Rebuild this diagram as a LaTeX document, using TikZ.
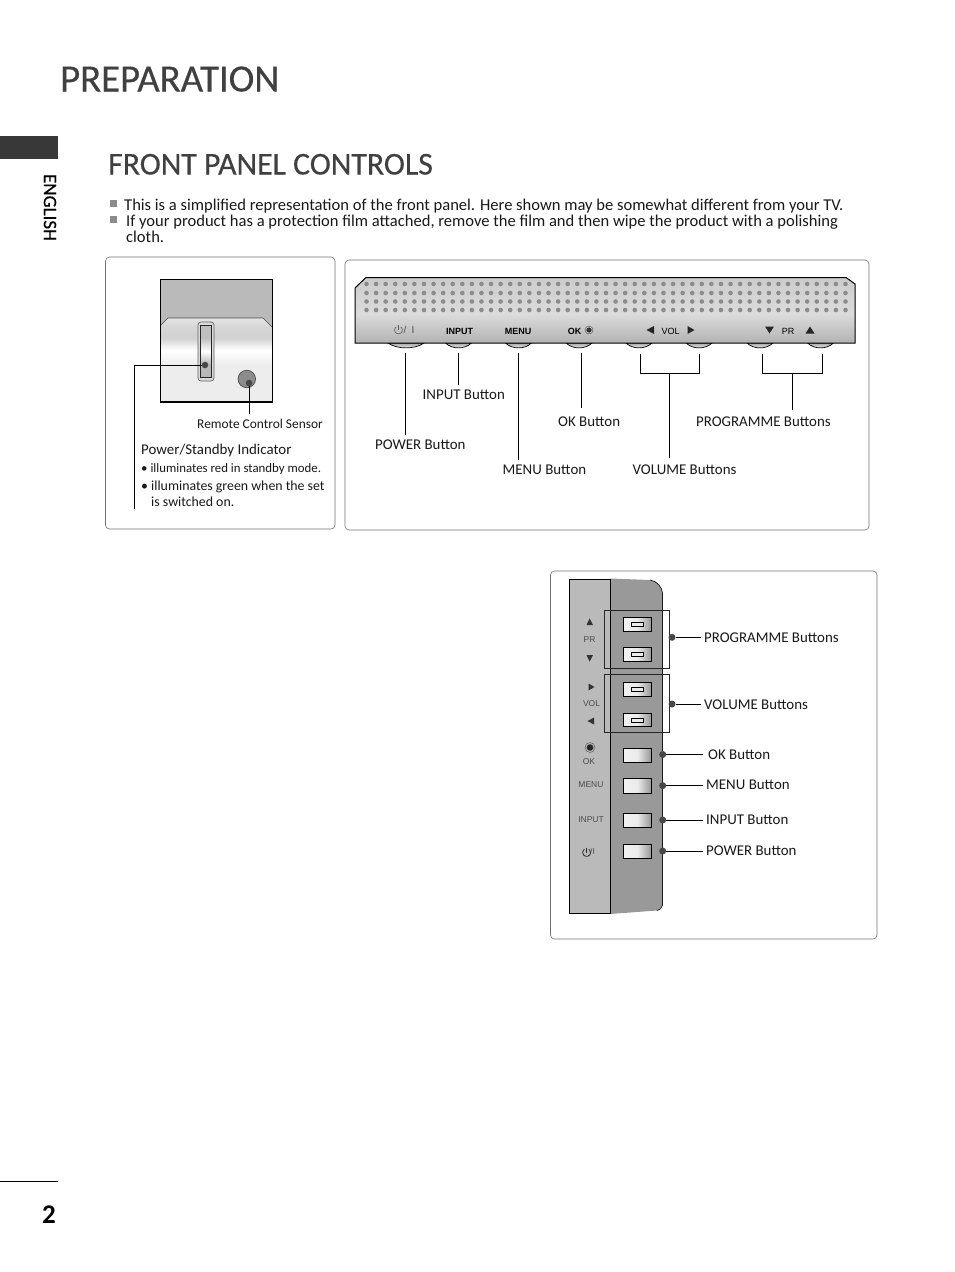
\documentclass[tikz,border=0pt]{standalone}
\usepackage{fontspec}
\setmainfont{Carlito}
\newfontfamily\arialf{Liberation Sans}
\newfontfamily\headf[FakeBold=0.35]{Carlito}
\pgfdeclareverticalshading{chinshade}{100bp}{color(0bp)=(black!7); color(25bp)=(black!7); color(47bp)=(black!7); color(56bp)=(white); color(63bp)=(black!18); color(70bp)=(black!16); color(75bp)=(black!10); color(100bp)=(black!10)}
\pgfdeclareverticalshading{ledshade}{100bp}{color(0bp)=(black!28); color(37.5bp)=(black!28); color(50bp)=(white); color(62.5bp)=(black!25); color(100bp)=(black!25)}
\pgfdeclareverticalshading{panelshade}{100bp}{color(0bp)=(black!30); color(25bp)=(black!30); color(47bp)=(black!14); color(75bp)=(black!20); color(100bp)=(black!20)}
\pgfdeclareverticalshading{keyshade}{100bp}{color(0bp)=(white); color(25bp)=(white); color(75bp)=(black!35); color(100bp)=(black!35)}
\pgfdeclarehorizontalshading{btnshade}{100bp}{color(0bp)=(black!5); color(25bp)=(black!5); color(50bp)=(black!8); color(75bp)=(black!42); color(100bp)=(black!42)}
\newcommand{\pwrsym}[3]{\draw[#3] plot[domain=125:415,samples=24,smooth] ({#1+3.8*cos(\x)},{#2-3.8*sin(\x)}); \draw[#3] (#1,#2-5) -- (#1,#2);}
\tikzset{
  x=1pt,y=-1pt,
  txt/.style={inner sep=0pt,anchor=base west,text=black!90},
  lab/.style={txt,font=\fontsize{14.9}{14.9}\selectfont},
  small/.style={txt,font=\fontsize{12.85}{12.85}\selectfont},
  bodytxt/.style={txt,font=\fontsize{16.55}{16.55}\selectfont},
  ari/.style={inner sep=0pt,anchor=center,text=black!70,font=\arialf\fontsize{8.5}{8.5}\selectfont},
  arib/.style={inner sep=0pt,anchor=center,text=black,font=\arialf\fontsize{9}{9}\selectfont},
  framebox/.style={draw=black!55,line width=0.6pt,rounded corners=4pt,fill=white},
  leader/.style={draw=black,line width=0.7pt},
  leaddot/.style={circle,fill=black!72,inner sep=0pt,minimum size=7pt},
  frontbtn/.style={draw=black,line width=0.9pt,shading=btnshade},
  innerslot/.style={draw=black,line width=0.6pt,fill=black!8},
}
\begin{document}
\begin{tikzpicture}
\useasboundingbox (0,0) rectangle (954,1272);
\fill[white] (0,0) rectangle (954,1272);
% header
\node[txt,text=black!75,font=\headf\fontsize{38.7}{38.7}\selectfont] (title) at (60,91.5) {PREPARATION};
\fill[black!78] (0,136) rectangle (58,159);
\node[inner sep=0pt,rotate=-90,text=black,font=\headf\fontsize{19}{19}\selectfont] (eng) at (50,207.5) {ENGLISH};
\node[txt,text=black!75,font=\headf\fontsize{31.8}{31.8}\selectfont] (sect) at (108,174.5) {FRONT PANEL CONTROLS};
\fill[black!45] (110,199.5) rectangle (117,206.5);
\fill[black!45] (110,215.5) rectangle (117,222.5);
\node[bodytxt] (l1) at (124,210) {This is a simplified representation of the front panel. Here shown may be somewhat different from your TV.};
\node[bodytxt] (l2) at (126,226) {If your product has a protection film attached, remove the film and then wipe the product with a polishing};
\node[bodytxt] (l3) at (126,242) {cloth.};
% boxes
\draw[framebox] (105.5,257) rectangle (335,529);
\draw[framebox] (345,260) rectangle (869,530);
\draw[framebox] (550.5,571) rectangle (877,939);
% sensor picture
\fill[black!27] (160.7,279.5) rectangle (272,402);
\shade[shading=chinshade] (161,325) -- (168,318) -- (263,318) -- (272,327) -- (272,402) -- (161,402) -- cycle;
\draw[black!70,line width=0.6pt] (161,325) -- (168,318) -- (263,318) -- (272,327);
\draw[black,line width=0.6pt] (160.7,402) -- (160.7,279.5) -- (272,279.5) -- (272,402);
\draw[black,line width=1.4pt] (160.2,402) -- (272.5,402);
\draw[black,line width=1.2pt] (160.7,325) -- (160.7,402);
\draw[black!60,line width=0.7pt,fill=black!15,rounded corners=3pt] (198,322) rectangle (214,381);
\shade[shading=ledshade,draw=black!85,line width=0.7pt] (200.7,325) rectangle (211.7,377);
\node[circle,fill=black!72,inner sep=0pt,minimum size=6.5pt] (leddot) at (205,365) {};
\node[circle,draw=black!70,line width=0.7pt,fill=black!45,inner sep=0pt,minimum size=17.5pt] (sensor) at (246.8,379) {};
\node[circle,fill=black!72,inner sep=0pt,minimum size=6.5pt] (sensordot) at (249,383) {};
\node[small,font=\fontsize{13.4}{13.4}\selectfont] (rcs) at (197,428) {Remote Control Sensor};
\coordinate (rcstop) at (249,414);
\draw[leader] (sensordot) -- (rcstop);
\coordinate (ledelbow) at (134.5,365);
\coordinate (ledend) at (134.5,509);
\draw[leader] (leddot) -- (ledelbow) -- (ledend);
\node[lab] (psi) at (141,454) {Power/Standby Indicator};
\node[small] (p1) at (141,472) {• illuminates red in standby mode.};
\node[lab,font=\fontsize{13.85}{13.85}\selectfont] (p2) at (141,490) {• illuminates green when the set};
\node[lab,font=\fontsize{13.85}{13.85}\selectfont] (p3) at (151,506) {is switched on.};
% front panel buttons
\foreach \cx/\hw in {406/18,458.5/13,518.5/13,579/13,639/13,699/13,760/13,820.5/13}{
  \shade[shading=keyshade,draw=black,line width=0.7pt] (\cx-\hw,343) .. controls (\cx-\hw*0.5,349.5) and (\cx+\hw*0.5,349.5) .. (\cx+\hw,343) -- cycle;
}
% panel
\shade[shading=panelshade] (355,288) -- (366,277.5) -- (846,277.5) -- (855,284) -- (855,343) -- (355,343) -- cycle;
\draw[black,line width=1pt] (355,343) -- (355,288) -- (366,277.5) -- (846,277.5) -- (855,284) -- (855,343) -- cycle;
\foreach \r in {284,293,301.5,310}{
  \foreach \i in {0,...,50}{
    \fill[black!45] ({366.5+9.58*\i},\r) circle (2.3);
  }
}
% power symbol on panel
\pwrsym{398.5}{330}{black!65,line width=0.6pt}
\node[ari,font=\arialf\fontsize{10}{10}\selectfont] (pwrtxt) at (409,330) {/\hspace{5pt}I};
\node[arib] (pinput) at (459.5,331) {\textbf{INPUT}};
\node[arib] (pmenu) at (518,331) {\textbf{MENU}};
\node[arib] (pok) at (574.5,331) {\textbf{OK}};
\node[circle,draw=black!70,line width=0.4pt,inner sep=0pt,minimum size=8pt] (poksym) at (589,330) {};
\fill[black!80] (poksym.center) circle (2.6);
\fill[black!85] (654,326) -- (654,334) -- (646.5,330) -- cycle;
\fill[black!85] (687.5,326) -- (687.5,334) -- (694.5,330) -- cycle;
\fill[black!85] (765,326.5) -- (774,326.5) -- (769.5,333.5) -- cycle;
\fill[black!85] (805.5,333.5) -- (814.5,333.5) -- (810,326.5) -- cycle;
\node[arib] (pvol) at (670.5,331) {VOL};
\node[arib] (ppr) at (788,331) {PR};
% connectors of the front panel
\foreach \nm/\cx/\cy in {a/405.5/435,b/458.5/385,c/518.5/460,d/581/408}{
  \coordinate (\nm top) at (\cx,353);
  \coordinate (\nm end) at (\cx,\cy);
  \draw[leader] (\nm top) -- (\nm end);
}
\coordinate (va) at (640,354); \coordinate (vb) at (640,373); \coordinate (vc) at (699.5,373); \coordinate (vd) at (699.5,354);
\coordinate (vm) at (669.5,373); \coordinate (ve) at (669.5,458);
\draw[leader] (va) -- (vb) -- (vc) -- (vd);
\draw[leader] (vm) -- (ve);
\coordinate (ra) at (762.5,354); \coordinate (rb) at (762.5,373); \coordinate (rc) at (822.5,373); \coordinate (rd) at (822.5,354);
\coordinate (rm) at (792.5,373); \coordinate (re) at (792.5,410);
\draw[leader] (ra) -- (rb) -- (rc) -- (rd);
\draw[leader] (rm) -- (re);
\node[lab] (tinput) at (422.5,399) {INPUT Button};
\node[lab] (tpower) at (375,449) {POWER Button};
\node[lab] (tok) at (558,426) {OK Button};
\node[lab] (tmenu) at (502.5,474) {MENU Button};
\node[lab] (tprog) at (696,426) {PROGRAMME Buttons};
\node[lab] (tvol) at (632.5,474) {VOLUME Buttons};
% side view
\fill[black!40] (610,578.5) -- (650,580) .. controls (657,581) and (662,587) .. (662.5,593) -- (662.5,905) .. controls (662,908) and (660,910) .. (657,910.5) -- (610,914) -- cycle;
\draw[black!90,line width=0.7pt] (650,580) .. controls (657,581) and (662,587) .. (662.5,593) -- (662.5,905) .. controls (662,908) and (660,910) .. (657,910.5);
\fill[black!27] (569,579) rectangle (610,913.5);
\draw[black,line width=1pt] (610,913.5) -- (569,913.5) -- (569,579) -- (610,579) -- (610,913.5);
\foreach \ya/\yb/\slot in {617/631/1,647.7/661.7/1,682/696/1,713/726.7/1,748/762/0,778.7/793/0,813/827/0,844/858/0}{
  \draw[frontbtn] (623,\ya) rectangle (651.7,\yb);
  \ifnum\slot=1
    \draw[innerslot] (631,{(\ya+\yb)/2-2}) rectangle (643.3,{(\ya+\yb)/2+2});
  \fi
}
\draw[black!85,line width=0.6pt] (604.3,610.7) rectangle (669.3,668.7);
\draw[black!85,line width=0.6pt] (604.3,674.3) rectangle (669.3,732.3);
% side labels
\fill[black!80] (586.5,625) -- (593,625) -- (589.7,618.5) -- cycle;
\fill[black!80] (586.5,655) -- (593,655) -- (589.7,661.5) -- cycle;
\fill[black!80] (588.5,683.5) -- (588.5,690.5) -- (594.5,687) -- cycle;
\fill[black!80] (594,717.5) -- (594,724.5) -- (587.5,721) -- cycle;
\node[ari] (spr) at (589.5,640) {PR};
\node[ari] (svol) at (591.5,704) {VOL};
\node[circle,draw=black!70,line width=0.4pt,inner sep=0pt,minimum size=10pt] (soksym) at (590,747.5) {};
\fill[black!85] (soksym.center) circle (3.3);
\node[ari] (sok) at (589,761.5) {OK};
\node[ari] (smenu) at (591,784.5) {MENU};
\node[ari] (sinput) at (591,819.5) {INPUT};
\pwrsym{586.6}{852.5}{black!85,line width=0.8pt}
\node[ari] (spower) at (592.5,851.5) {/I};
% side connectors and labels
\node[leaddot] (d1) at (672,637.3) {};
\node[leaddot] (d2) at (672,704) {};
\node[leaddot] (d3) at (662.7,754.5) {};
\node[leaddot] (d4) at (662.7,785.6) {};
\node[leaddot] (d5) at (662.7,820) {};
\node[leaddot] (d6) at (662.7,851) {};
\node[lab] (sprog) at (704,642) {PROGRAMME Buttons};
\node[lab] (svolb) at (704,709) {VOLUME Buttons};
\node[lab] (sokb) at (708,759) {OK Button};
\node[lab] (smen) at (706,789) {MENU Button};
\node[lab] (sinp) at (706,824) {INPUT Button};
\node[lab] (spow) at (706,855) {POWER Button};
\coordinate (e1) at (701,637.3); \coordinate (e2) at (701,704); \coordinate (e3) at (703,754.5);
\coordinate (e4) at (703,785.6); \coordinate (e5) at (703,820); \coordinate (e6) at (703,851);
\foreach \i in {1,...,6}{ \draw[leader] (d\i) -- (e\i); }
% footer
\draw[black,line width=1pt] (0,1181) -- (58,1181);
\node[txt,text=black,font=\bfseries\fontsize{27}{27}\selectfont] (pg) at (42,1223) {2};
\end{tikzpicture}
\end{document}
